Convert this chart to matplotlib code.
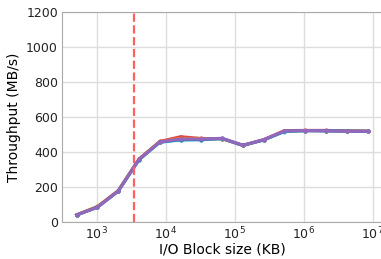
import numpy as np
import matplotlib.pyplot as plt

block_kb = [512, 1024, 2048, 4096, 8192, 16384, 32768, 65536, 131072,
            262144, 524288, 1048576, 2097152, 4194304, 8388608]

run_red    = [40, 87, 178, 360, 460, 487, 477, 476, 438, 470, 522, 523, 523, 521, 519]
run_orange = [41, 89, 179, 358, 458, 478, 476, 475, 437, 469, 520, 522, 521, 519, 518]
run_teal   = [40, 85, 176, 355, 455, 468, 470, 476, 437, 468, 516, 521, 520, 518, 518]
run_blue   = [40, 84, 176, 356, 456, 470, 470, 477, 438, 469, 518, 522, 521, 519, 518]
run_purple = [40, 84, 177, 357, 457, 474, 474, 478, 438, 470, 520, 522, 521, 518, 518]

cache_kb = 3500

series = [("#d62728", run_red, 0.85), ("#ff7f0e", run_orange, 0.85),
          ("#17becf", run_teal, 0.85), ("#1f77b4", run_blue, 0.85),
          ("#9467bd", run_purple, 1.0)]

fig = plt.figure(figsize=(3.81, 2.59), dpi=100)
ax = fig.add_axes([0.163, 0.143, 0.84, 0.811])

for c, vals, a in series:
    ax.plot(block_kb, vals, color=c, lw=2.2, marker='o', ms=2, alpha=a)

ax.axvline(cache_kb, color='#ff6060', ls='--', lw=1.6)

ax.set_xscale('log')
ax.set_ylim(0, 1200)
ax.set_yticks(range(0, 1201, 200))
ax.grid(True, color='#dddddd', lw=1)
ax.set_axisbelow(True)
for s in ax.spines.values():
    s.set_color('#aaaaaa')
ax.tick_params(length=0, labelsize=9, colors='#222222', pad=3)
ax.tick_params(which='minor', length=0)
ax.set_xlabel("I/O Block size (KB)", fontsize=10, labelpad=0)
ax.set_ylabel("Throughput (MB/s)", fontsize=10, labelpad=4)

fig.savefig("out.png", dpi=100)
